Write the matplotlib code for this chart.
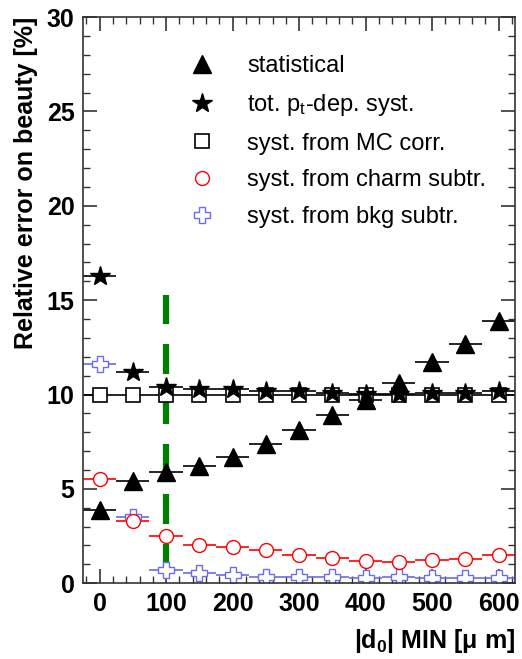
import matplotlib.pyplot as plt
import numpy as np
from matplotlib.lines import Line2D
from matplotlib.ticker import MultipleLocator

plt.rcParams['font.family'] = ['Liberation Sans', 'DejaVu Sans']
plt.rcParams['mathtext.fontset'] = 'custom'
plt.rcParams['mathtext.rm'] = 'Liberation Sans'
plt.rcParams['mathtext.it'] = 'Liberation Sans'
plt.rcParams['mathtext.bf'] = 'Liberation Sans:bold'

# |d0| MIN bins (um), bin half-width 25
d0_min = [0, 50, 100, 150, 200, 250, 300, 350, 400, 450, 500, 550, 600]
bin_half = 25

statistical = [3.9, 5.4, 5.9, 6.2, 6.7, 7.4, 8.1, 8.9, 9.7, 10.6, 11.7, 12.7, 13.9]
tot_syst = [16.3, 11.2, 10.4, 10.3, 10.3, 10.2, 10.2, 10.1, 10.05, 10.05, 10.1, 10.1, 10.2]
mc_corr = [10.0] * 13
charm_subtr = [5.5, 3.3, 2.5, 2.05, 1.9, 1.75, 1.5, 1.35, 1.2, 1.1, 1.25, 1.3, 1.5]
bkg_subtr = [11.6, 3.5, 0.7, 0.55, 0.45, 0.35, 0.35, 0.35, 0.3, 0.35, 0.3, 0.3, 0.25]

cut_value = 100
cut_range = [0.5, 15.3]

fig = plt.figure(figsize=(5.22, 6.59), dpi=100)
ax = fig.add_axes([0.159, 0.115, 0.828, 0.859])

blue = '#6b6bf0'

series = [
    (mc_corr, dict(marker='s', ms=10, mfc='white', mec='black', color='black', mew=1.2)),
    (bkg_subtr, dict(marker='P', ms=11, mfc='white', mec=blue, color=blue, mew=1.0)),
    (charm_subtr, dict(marker='o', ms=10, mfc='white', mec='red', color='red', mew=1.0)),
    (tot_syst, dict(marker='*', ms=15, mfc='black', mec='black', color='black')),
    (statistical, dict(marker='^', ms=13, mfc='black', mec='black', color='black')),
]
for vals, st in series:
    ax.errorbar(d0_min, vals, xerr=bin_half, ls='none', elinewidth=1.2, capsize=0, **st)

ax.plot([cut_value, cut_value], cut_range, color='green', lw=4.5, ls=(0, (4.8, 3.2)))

ax.set_xlim(-25, 625)
ax.set_ylim(0, 30)
ax.xaxis.set_major_locator(MultipleLocator(100))
ax.xaxis.set_minor_locator(MultipleLocator(20))
ax.yaxis.set_major_locator(MultipleLocator(5))
ax.yaxis.set_minor_locator(MultipleLocator(1))
ax.tick_params(which='both', direction='in', top=True, right=True, color='#333333')
ax.tick_params(which='major', length=10, width=1.2, labelsize=18, pad=6)
ax.tick_params(which='minor', length=5, width=1.0)
for lab in ax.get_xticklabels() + ax.get_yticklabels():
    lab.set_fontweight('bold')
for sp in ax.spines.values():
    sp.set_linewidth(1.2)
    sp.set_color('#333333')

ax.set_ylabel('Relative error on beauty [%]', fontsize=18, fontweight='bold', loc='top', labelpad=6)
ax.set_xlabel(r'|d$_\mathbf{0}$| MIN [$\mathregular{\mu}$ m]', fontsize=18, fontweight='bold', loc='right', labelpad=8)

handles = [
    Line2D([], [], ls='none', marker='^', ms=13, color='black'),
    Line2D([], [], ls='none', marker='*', ms=15, color='black'),
    Line2D([], [], ls='none', marker='s', ms=10, mfc='white', mec='black', mew=1.2),
    Line2D([], [], ls='none', marker='o', ms=10, mfc='white', mec='red', mew=1.0),
    Line2D([], [], ls='none', marker='P', ms=11, mfc='white', mec=blue, mew=1.0),
]
labels = ['statistical', r'tot. p$_\mathregular{t}$-dep. syst.', 'syst. from MC corr.',
          'syst. from charm subtr.', 'syst. from bkg subtr.']
ax.legend(handles, labels, loc='upper left', bbox_to_anchor=(0.2, 0.97), frameon=False,
          fontsize=17, handlelength=1.0, handletextpad=1.4, labelspacing=0.62)

fig.savefig('out.png', dpi=100)
